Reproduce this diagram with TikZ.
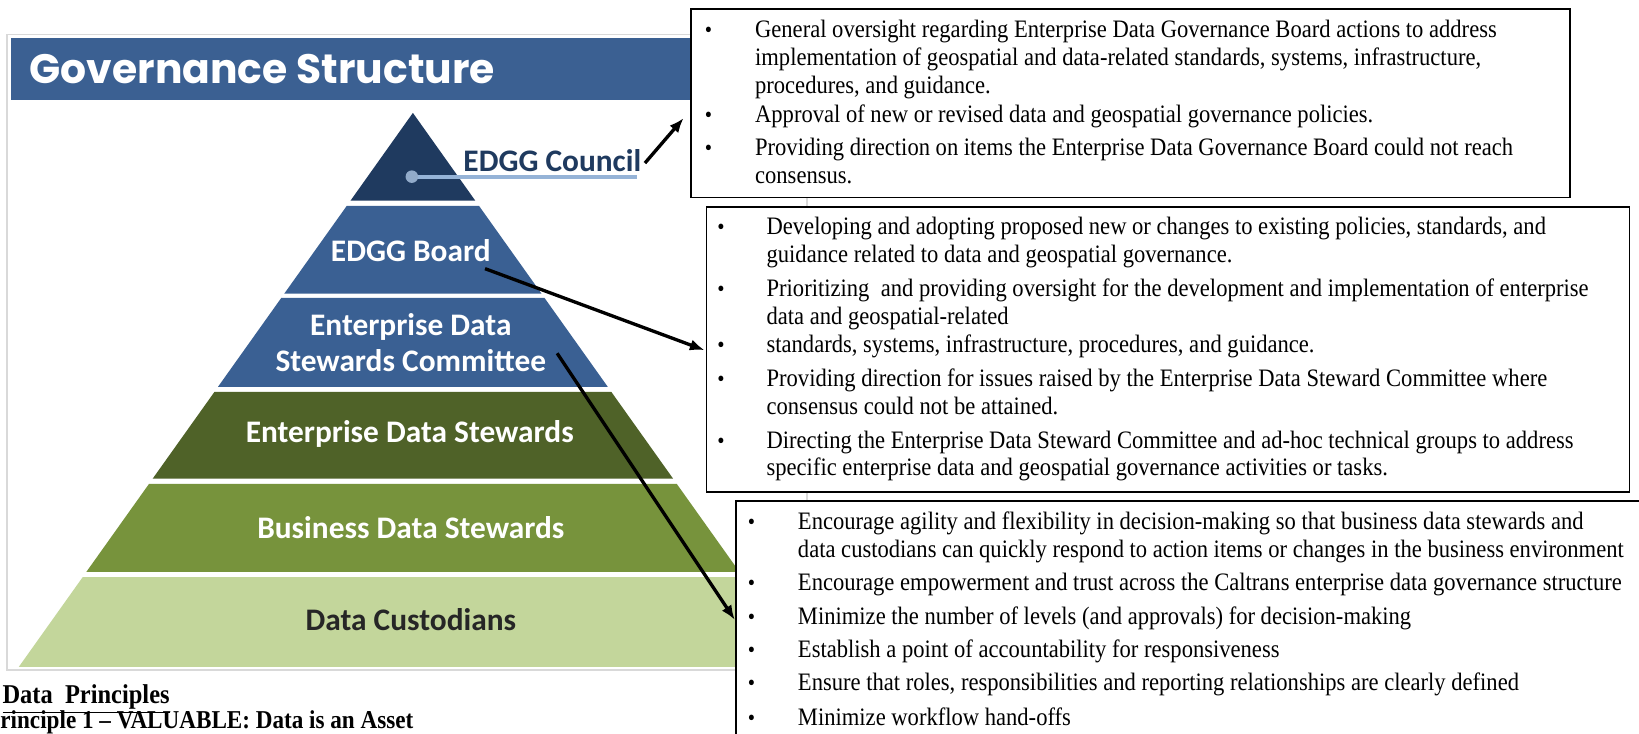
\documentclass[tikz,border=0pt]{standalone}
\usepackage{fontspec}
\usepackage{graphicx}
\setmainfont{Liberation Serif}
\newfontfamily\boxfont{Liberation Serif}[FakeStretch=0.9]
\newfontfamily\calib{Carlito}
\newfontfamily\titlefont{Poppins}
\usetikzlibrary{arrows.meta}
\definecolor{titlebar}{HTML}{3B6092}
\definecolor{council}{HTML}{1F3A5F}
\definecolor{boardblue}{HTML}{3A6093}
\definecolor{darkolive}{HTML}{4F6228}
\definecolor{olive}{HTML}{77933C}
\definecolor{lightolive}{HTML}{C3D69B}
\definecolor{linkblue}{HTML}{95B3D7}
\definecolor{framegray}{HTML}{D9D9D9}
\begin{document}
\begin{tikzpicture}[x=0.5pt,y=-0.5pt,
  txtline/.style={anchor=base west,inner sep=0pt,font=\boxfont\fontsize{12}{14}\selectfont},
  bul/.style={anchor=base west,inner sep=0pt,font=\boxfont\fontsize{11}{13}\selectfont},
  infobox/.style={draw=black,line width=0.9pt,fill=white,anchor=north west,inner sep=0pt},
  plabel/.style={inner sep=0pt,font=\calib\bfseries\fontsize{15}{16}\selectfont,text=white,align=center},
  callout/.style={-{Latex[length=7pt,width=5.5pt]},line width=1.6pt,black}]
\clip (0,0) rectangle (1568,702);
\fill[white] (0,0) rectangle (1568,702);
% frame and title bar
\draw[framegray,line width=0.8pt] (7,33) rectangle (772,641);
\fill[titlebar] (11,36) rectangle (768,96);
\node[anchor=west,inner sep=0pt,text=white] (title) at (28,66)
  {\resizebox{222.5pt}{14pt}{\titlefont\bfseries Governance Structure}};
% pyramid layers
\fill[council]    (395,108) -- (335.3,192) -- (454.7,192) -- cycle;
\fill[boardblue]  (331.7,197) -- (458.3,197) -- (518.1,281) -- (271.9,281) -- cycle;
\fill[boardblue]  (269.1,285) -- (520.9,285) -- (581.4,370) -- (208.6,370) -- cycle;
\fill[darkolive]  (205.1,375) -- (584.9,375) -- (644.0,458) -- (146.0,458) -- cycle;
\fill[olive]      (142.5,463) -- (647.5,463) -- (707.3,547) -- (82.7,547) -- cycle;
\fill[lightolive] (79.2,552) -- (710.8,552) -- (772.0,638) -- (18.0,638) -- cycle;
% council link
\draw[linkblue,line width=2pt] (394,169) -- (609,169);
\fill[linkblue!85!gray] (394,169) circle (6);
% pyramid labels
\node[plabel,text=council,anchor=west] (councillbl) at (443,154) {EDGG Council};
\node[plabel] (boardlbl) at (393,240) {EDGG Board};
\node[plabel] (committeelbl) at (393,328) {Enterprise Data\\[1pt]Stewards Committee};
\node[plabel] (edslbl) at (392,415) {Enterprise Data Stewards};
\node[plabel] (bdslbl) at (393,505) {Business Data Stewards};
\node[plabel,text=black!85] (custlbl) at (393,593) {Data Custodians};
% info boxes (sizes in pt = half of picture units)
\node[infobox,minimum width=420.5pt,minimum height=90pt] (box1) at (660,8) {};
\node[infobox,minimum width=441.5pt,minimum height=136.5pt] (box2) at (675,197) {};
\node[infobox,minimum width=450pt,minimum height=130pt] (box3) at (703,478) {};
% box 1 text
\foreach \nm/\yy/\txt in {
  b1l1/36/{General oversight regarding Enterprise Data Governance Board actions to address},
  b1l2/63/{implementation of geospatial and data-related standards, systems, infrastructure,},
  b1l3/89/{procedures, and guidance.},
  b1l4/117/{Approval of new or revised data and geospatial governance policies.},
  b1l5/149/{Providing direction on items the Enterprise Data Governance Board could not reach},
  b1l6/176/{consensus.}}
  {\node[txtline] (\nm) at (722,\yy) {\txt};}
\foreach \nm/\yy in {b1p1/36,b1p2/117,b1p3/149}
  {\node[bul] (\nm) at (674,\yy) {•};}
% box 2 text
\foreach \nm/\yy/\txt in {
  b2l1/224/{Developing and adopting proposed new or changes to existing policies, standards, and},
  b2l2/251/{guidance related to data and geospatial governance.},
  b2l3/284/{Prioritizing\ \ and providing oversight for the development and implementation of enterprise},
  b2l4/310/{data and geospatial-related},
  b2l5/337/{standards, systems, infrastructure, procedures, and guidance.},
  b2l6/370/{Providing direction for issues raised by the Enterprise Data Steward Committee where},
  b2l7/397/{consensus could not be attained.},
  b2l8/429/{Directing the Enterprise Data Steward Committee and ad-hoc technical groups to address},
  b2l9/455/{specific enterprise data and geospatial governance activities or tasks.}}
  {\node[txtline] (\nm) at (733,\yy) {\txt};}
\foreach \nm/\yy in {b2p1/224,b2p2/284,b2p3/337,b2p4/370,b2p5/429}
  {\node[bul] (\nm) at (686,\yy) {•};}
% box 3 text
\foreach \nm/\yy/\txt in {
  b3l1/507/{Encourage agility and flexibility in decision-making so that business data stewards and},
  b3l2/533/{data custodians can quickly respond to action items or changes in the business environment},
  b3l3/565/{Encourage empowerment and trust across the Caltrans enterprise data governance structure},
  b3l4/597/{Minimize the number of levels (and approvals) for decision-making},
  b3l5/629/{Establish a point of accountability for responsiveness},
  b3l6/661/{Ensure that roles, responsibilities and reporting relationships are clearly defined},
  b3l7/694/{Minimize workflow hand-offs}}
  {\node[txtline] (\nm) at (763,\yy) {\txt};}
\foreach \nm/\yy in {b3p1/507,b3p2/565,b3p3/597,b3p4/629,b3p5/661,b3p6/694}
  {\node[bul] (\nm) at (715,\yy) {•};}
% bottom-left text
\node[anchor=base west,inner sep=0pt,font=\boxfont\bfseries\fontsize{13}{15}\selectfont] (dp) at (2,673) {\underline{Data\ \ Principles}};
\node[anchor=base west,inner sep=0pt,font=\boxfont\bfseries\fontsize{12.3}{14}\selectfont] (pr1) at (0,697) {rinciple 1 – VALUABLE: Data is an Asset};
% callout arrows
\coordinate (c1s) at (617,156);
\coordinate (c1e) at (654,113);
\coordinate (c2s) at (464,257);
\coordinate (c2e) at (674,335);
\coordinate (c3s) at (533,338);
\coordinate (c3e) at (703,593);
\draw[callout] (c1s) -- (c1e);
\draw[callout] (c2s) -- (c2e);
\draw[callout] (c3s) -- (c3e);
\end{tikzpicture}
\end{document}
